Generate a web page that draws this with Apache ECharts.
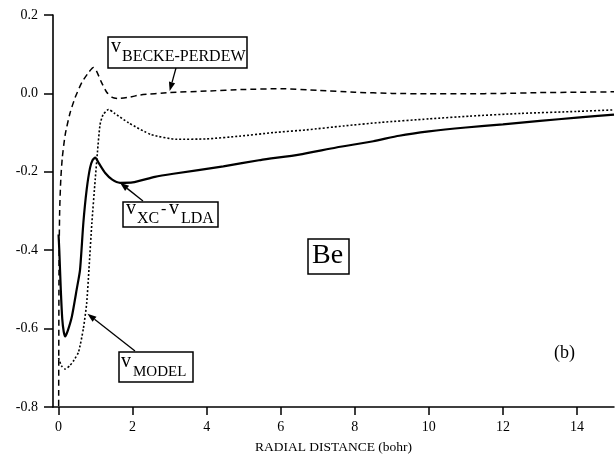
<!DOCTYPE html>
<html><head><meta charset="utf-8">
<script src="https://cdn.jsdelivr.net/npm/echarts@6.0.0/dist/echarts.min.js"></script>
<style>html,body{margin:0;padding:0;background:#fff}#c{width:615px;height:460px}</style>
</head><body><div id="c"></div>
<script>
// ---- data ----
const xTicks = [0, 2, 4, 6, 8, 10, 12, 14];
const yTicks = [-0.8, -0.6, -0.4, -0.2, 0.0, 0.2];
const xName = 'RADIAL DISTANCE (bohr)';
const atomLabel = 'Be';
const panelLabel = '(b)';

// v_XC - v_LDA (solid)
const vxcMinusLda = [
  [0.0,-0.36],[0.02,-0.40],[0.06,-0.50],[0.10,-0.575],[0.14,-0.608],[0.18,-0.62],[0.25,-0.605],
  [0.36,-0.569],[0.49,-0.50],[0.58,-0.45],[0.67,-0.33],[0.76,-0.245],[0.85,-0.19],[0.92,-0.17],
  [0.99,-0.164],[1.1,-0.18],[1.26,-0.203],[1.45,-0.22],[1.66,-0.228],[2.0,-0.227],[2.6,-0.213],
  [3.1,-0.205],[4.45,-0.186],[5.45,-0.17],[6.5,-0.156],[7.5,-0.138],[8.5,-0.122],[9.2,-0.108],
  [10,-0.097],[11,-0.087],[12,-0.079],[13,-0.07],[14,-0.062],[15,-0.054]
];
// v_BECKE-PERDEW (dashed)
const vBeckePerdew = [
  [0.0,-0.95],[0.012,-0.45],[0.03,-0.30],[0.06,-0.22],[0.10,-0.165],[0.18,-0.105],[0.31,-0.05],
  [0.45,-0.01],[0.63,0.028],[0.80,0.052],[0.94,0.066],[1.02,0.058],[1.15,0.03],[1.30,0.003],
  [1.45,-0.01],[1.60,-0.013],[1.9,-0.01],[2.2,-0.004],[3.0,0.002],[4.0,0.006],[5.0,0.010],
  [6.0,0.012],[7.0,0.008],[8.0,0.003],[9.0,0.0],[10,-0.001],[11,-0.001],[12,0.0],[13,0.002],
  [14,0.003],[15,0.004]
];
// v_MODEL (dotted)
const vModel = [
  [0.0,-0.675],[0.08,-0.695],[0.18,-0.703],[0.30,-0.695],[0.42,-0.68],[0.54,-0.66],[0.67,-0.60],
  [0.76,-0.535],[0.82,-0.45],[0.90,-0.33],[0.99,-0.22],[1.05,-0.15],[1.12,-0.08],[1.2,-0.055],
  [1.35,-0.041],[1.5,-0.05],[1.89,-0.075],[2.5,-0.105],[3.2,-0.117],[4.0,-0.116],[4.9,-0.109],
  [5.8,-0.10],[6.7,-0.093],[7.7,-0.083],[8.7,-0.074],[10,-0.065],[11.1,-0.058],[12.5,-0.051],
  [14,-0.046],[15,-0.042]
];

const SERIF = '"Liberation Serif","DejaVu Serif",serif';
const chart = echarts.init(document.getElementById('c'), null, {renderer: 'canvas'});

const option = {
  animation: false,
  backgroundColor: '#fff',
  grid: {left: 53, right: 1, top: 15, bottom: 53, containLabel: false},
  xAxis: {
    type: 'value', min: -0.15, max: 15,
    name: xName, nameLocation: 'middle', nameGap: 33,
    nameTextStyle: {fontFamily: SERIF, fontSize: 13.5, color: '#000'},
    axisLine: {show: true, onZero: false, lineStyle: {color: '#000', width: 1.5}},
    axisTick: {show: true, inside: false, length: 8, customValues: xTicks, lineStyle: {color: '#000', width: 1.5}},
    axisLabel: {show: true, margin: 13, customValues: xTicks, fontFamily: SERIF, fontSize: 14, color: '#000'},
    splitLine: {show: false}
  },
  yAxis: {
    type: 'value', min: -0.8, max: 0.2, interval: 0.2,
    axisLine: {show: true, onZero: false, lineStyle: {color: '#000', width: 1.6}},
    axisTick: {show: true, inside: false, length: 9, lineStyle: {color: '#000', width: 1.5}},
    axisLabel: {show: true, margin: 15, fontFamily: SERIF, fontSize: 14, color: '#000',
      formatter: v => (Math.abs(v) < 1e-9 ? 0 : v).toFixed(1)},
    splitLine: {show: false}
  },
  series: [
    {type: 'line', name: 'vBP', data: vBeckePerdew, showSymbol: false, symbol: 'none', smooth: 0.2, clip: true,
      lineStyle: {color: '#000', width: 1.5, type: [6, 4]}},
    {type: 'line', name: 'vModel', data: vModel, showSymbol: false, symbol: 'none', smooth: 0.2, clip: true,
      lineStyle: {color: '#000', width: 1.6, type: [2, 2]}},
    {type: 'line', name: 'vxc-vlda', data: vxcMinusLda, showSymbol: false, symbol: 'none', smooth: 0.2, clip: true,
      lineStyle: {color: '#000', width: 2.2, type: 'solid'}}
  ]
};
chart.setOption(option);

function toPx(p) { return chart.convertToPixel({gridIndex: 0}, p); }
function arrow(tail, headData) {
  const h = toPx(headData);
  const dx = h[0] - tail[0], dy = h[1] - tail[1];
  const L = Math.sqrt(dx*dx + dy*dy), ux = dx / L, uy = dy / L;
  const al = 9, aw = 3.2;
  const bx = h[0] - ux*al, by = h[1] - uy*al;
  return [
    {type: 'line', shape: {x1: tail[0], y1: tail[1], x2: bx, y2: by}, style: {stroke: '#000', lineWidth: 1.3}, z: 10},
    {type: 'polygon', shape: {points: [[h[0], h[1]], [bx - uy*aw, by + ux*aw], [bx + uy*aw, by - ux*aw]]},
      style: {fill: '#000'}, z: 10}
  ];
}
function box(x, y, w, h) {
  return {type: 'rect', shape: {x: x, y: y, width: w, height: h}, style: {fill: '#fff', stroke: '#000', lineWidth: 1.5}, z: 11};
}
function txt(s, x, baseline, size) {
  return {type: 'text', x: x, y: baseline - 0.33*size, style: {text: s, fontFamily: SERIF, fontSize: size, fill: '#000',
    align: 'left', verticalAlign: 'middle'}, z: 12};
}

const g = [];
// v_BECKE-PERDEW label
g.push(...arrow([176, 68], [3.0, 0.006]));
g.push(box(108, 37, 139, 31));
g.push(txt('v', 111, 53, 20));
g.push(txt('BECKE-PERDEW', 122, 62, 16));
// v_XC - v_LDA label
g.push(...arrow([143, 201], [1.66, -0.228]));
g.push(box(123, 202, 95, 25));
g.push(txt('v', 126, 215, 20));
g.push(txt('XC', 137, 224.5, 16));
g.push(txt('-', 161, 215, 16));
g.push(txt('v', 169, 215, 20));
g.push(txt('LDA', 181, 224.5, 16));
// v_MODEL label
g.push(...arrow([135, 351], [0.78, -0.562]));
g.push(box(119, 352, 74, 30));
g.push(txt('v', 121, 368, 20));
g.push(txt('MODEL', 133, 377, 15));
// Be
g.push(box(308, 239, 41, 35));
g.push(txt(atomLabel, 312, 264.5, 28));
// (b)
g.push(txt(panelLabel, 554, 359, 18));

chart.setOption({graphic: g});
</script>
</body></html>
